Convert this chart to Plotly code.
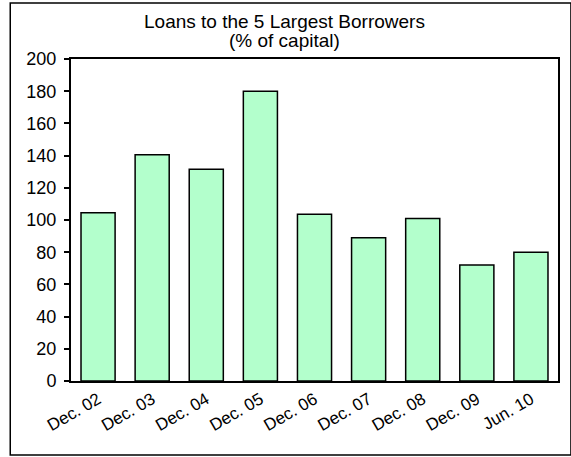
import plotly.graph_objects as go

# Loans to the five largest borrowers, % of capital
periods = ["Dec. 02", "Dec. 03", "Dec. 04", "Dec. 05", "Dec. 06",
           "Dec. 07", "Dec. 08", "Dec. 09", "Jun. 10"]
loans_pct = [104.5, 140.5, 131.5, 180, 103.5, 89, 101, 72, 80]
y_ticks = [0, 20, 40, 60, 80, 100, 120, 140, 160, 180, 200]
title_lines = ["Loans to the 5 Largest Borrowers", "(% of capital)"]

W, H = 571, 457
L, R, T, B = 71, 11, 59, 76
pw, ph = W - L - R, H - T - B

def px_x(p):
    return (p - L) / pw

def px_y(p):
    return (H - B - p) / ph

fig = go.Figure(go.Bar(
    x=periods, y=loans_pct,
    marker=dict(color="#B3FFCC", line=dict(color="black", width=1.5)),
))

fig.update_layout(
    width=W, height=H,
    margin=dict(l=L, r=R, t=T, b=B),
    paper_bgcolor="white", plot_bgcolor="white",
    font=dict(family="Liberation Sans, Arial, sans-serif", size=17, color="black"),
    bargap=0.37,
    showlegend=False,
    shapes=[dict(
        type="rect", xref="paper", yref="paper",
        x0=px_x(10), x1=px_x(573), y0=px_y(455), y1=px_y(3),
        line=dict(color="black", width=1.5), fillcolor="rgba(0,0,0,0)",
        layer="below",
    )],
    annotations=[
        dict(text=title_lines[0], xref="paper", yref="paper",
             x=px_x(285), y=px_y(21), xanchor="center", yanchor="middle",
             showarrow=False, font=dict(size=19)),
        dict(text=title_lines[1], xref="paper", yref="paper",
             x=px_x(285), y=px_y(40), xanchor="center", yanchor="middle",
             showarrow=False, font=dict(size=19)),
    ],
)

fig.update_xaxes(
    showline=True, linecolor="black", linewidth=2, mirror=True,
    ticks="", tickangle=-30, showgrid=False,
    tickfont=dict(size=17),
)
fig.update_yaxes(
    range=[0, 200], tickvals=y_ticks,
    showline=True, linecolor="black", linewidth=2, mirror=True,
    ticks="outside", ticklen=5, tickwidth=2, tickcolor="black",
    ticklabelstandoff=4,
    showgrid=False, zeroline=False,
    tickfont=dict(size=18),
)

fig.write_html("out.html")
